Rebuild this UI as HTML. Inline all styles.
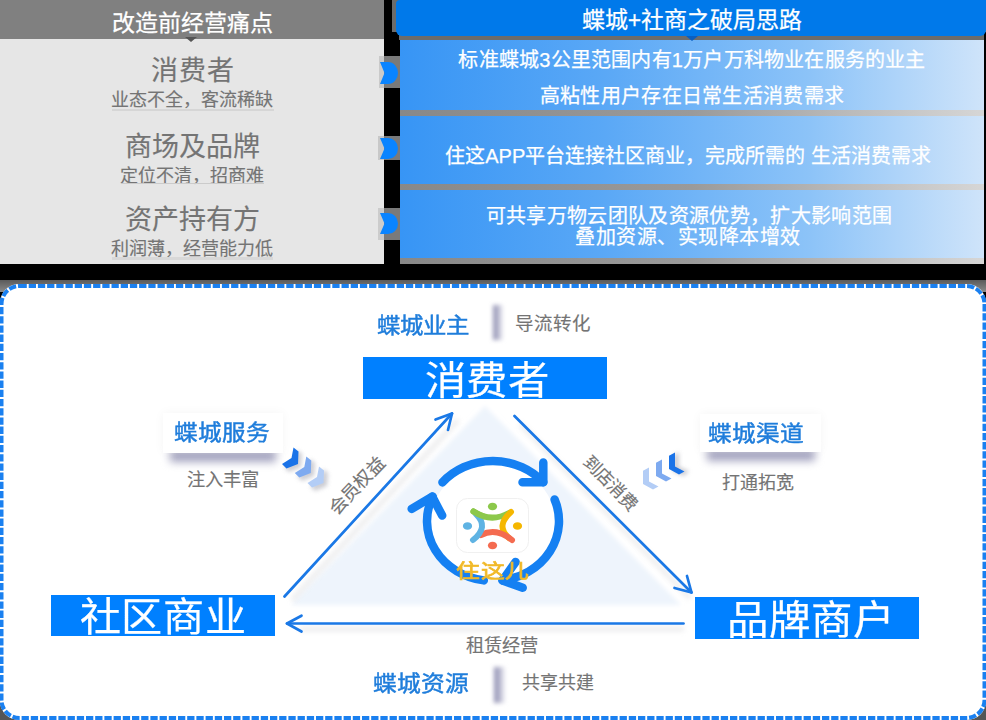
<!DOCTYPE html>
<html lang="zh-CN"><head><meta charset="utf-8">
<style>
*{margin:0;padding:0;box-sizing:border-box}
html,body{width:986px;height:720px;overflow:hidden;background:#000}
body{position:relative;font-family:"Liberation Sans",sans-serif}
.a{position:absolute}
.t{position:absolute;white-space:nowrap;line-height:1;text-align:center;-webkit-text-stroke:0.25px currentColor}
#lp{left:0;top:0;width:384px;height:264px;background:#e6e6e6}
#lh{left:0;top:0;width:384px;height:39px;background:#808080}
#rh{left:396px;top:0;width:590px;height:36px;background:#0079ea;border-radius:4px 0 6px 6px}
.row{position:absolute;left:400px;width:584px;background:linear-gradient(90deg,#3795f5 0%,#5aa8f6 35%,#8cc3f8 70%,#cfe4fa 100%)}
.sep{position:absolute;left:400px;width:584px;height:6px;background:linear-gradient(90deg,#888 0%,#9a9a9a 50%,#d6d6d6 100%)}
#box{left:0;top:284px;width:986px;height:436px}
.wt{color:#fff}
.gt{color:#747474;-webkit-text-stroke:0.15px #747474}
.bt{color:#1f7ddb;-webkit-text-stroke:0.45px #1f7ddb}
.bb{position:absolute;background:#0080ff}
</style></head><body>
<!-- left panel -->
<div class="a" id="lp"></div>
<div class="a" id="lh"></div>
<div class="t wt" style="left:0;width:384px;top:12px;font-size:23px">改造前经营痛点</div>
<div class="t gt" style="left:0;width:384px;top:58px;font-size:27px;letter-spacing:1px;text-indent:1px">消费者</div>
<div class="t gt" style="left:0;width:384px;top:91px;font-size:18px">业态不全，客流稀缺</div>
<div class="t gt" style="left:0;width:384px;top:134px;font-size:27px">商场及品牌</div>
<div class="t gt" style="left:0;width:384px;top:167px;font-size:18px">定位不清，招商难</div>
<div class="t gt" style="left:0;width:384px;top:207px;font-size:27px">资产持有方</div>
<div class="t gt" style="left:0;width:384px;top:240px;font-size:18px">利润薄，经营能力低</div>

<div class="a" style="left:112px;top:109px;width:162px;height:2px;background:#d6d6d6"></div>
<div class="a" style="left:121px;top:183px;width:143px;height:1px;background:#cbcbcb"></div>
<div class="a" style="left:112px;top:257px;width:161px;height:3px;background:#d8d8d8"></div>
<svg class="a" style="left:184px;top:37px" width="14" height="6"><path d="M1 0 L13 0 L7 5 Z" fill="#555"/></svg>
<!-- indicators -->
<div class="a" style="left:379px;top:56px;width:5px;height:32px;background:#cacaca"></div>
<div class="a" style="left:378px;top:136px;width:6px;height:24px;background:#c8c8c8"></div>
<div class="a" style="left:378px;top:208px;width:6px;height:32px;background:#cccccc"></div>
<div class="a" style="left:384px;top:56px;width:16px;height:32px;background:#7a7a7a"></div>
<div class="a" style="left:384px;top:136px;width:16px;height:24px;background:#7a7a7a"></div>
<div class="a" style="left:384px;top:208px;width:16px;height:32px;background:#7a7a7a"></div>
<svg class="a" style="left:376px;top:56px" width="26" height="190" viewBox="0 0 26 190">
<path d="M4 6 H12 A10 11 0 0 1 12 28 H4 L8.5 17 Z" fill="#0a84ff"/>
<path d="M4 82 H12 A10 10.5 0 0 1 12 103 H4 L8.5 92.5 Z" fill="#0a84ff"/>
<path d="M4 157 H12 A10 10.5 0 0 1 12 178 H4 L8.5 167.5 Z" fill="#0a84ff"/>
</svg>

<!-- right panel -->
<div class="a" style="left:392px;top:0;width:594px;height:32px;background:#6c6c6c"></div>
<div class="a" style="left:399px;top:32px;width:587px;height:8px;background:#6c6c6c"></div>
<div class="a" style="left:984px;top:32px;width:2px;height:232px;background:#000"></div>
<div class="a" id="rh"></div>
<div class="t wt" style="left:400px;width:584px;top:9px;font-size:23px">蝶城+社商之破局思路</div>
<div class="row" style="top:40px;height:70px"></div>
<svg class="a" style="left:685px;top:36px" width="14" height="6"><path d="M1 0 L13 0 L7 5 Z" fill="#0a5fc0"/></svg>
<div class="sep" style="top:110px"></div>
<div class="row" style="top:116px;height:68px"></div>
<div class="sep" style="top:184px"></div>
<div class="row" style="top:190px;height:68px"></div>
<div class="sep" style="top:258px"></div>
<div class="t wt" style="left:400px;width:584px;top:50px;font-size:20px;letter-spacing:.2px">标准蝶城3公里范围内有1万户万科物业在服务的业主</div>
<div class="t wt" style="left:400px;width:584px;top:86px;font-size:20px;letter-spacing:.3px">高粘性用户存在日常生活消费需求</div>
<div class="t wt" style="left:396px;width:584px;top:146px;font-size:20px">住这APP平台连接社区商业，完成所需的 生活消费需求</div>
<div class="t wt" style="left:397px;width:584px;top:206px;font-size:20px;letter-spacing:.35px">可共享万物云团队及资源优势，扩大影响范围</div>
<div class="t wt" style="left:396px;width:584px;top:227px;font-size:20px;letter-spacing:.5px">叠加资源、实现降本增效</div>

<!-- diagram box -->
<div class="a" style="left:0;top:280px;width:986px;height:12px;background:linear-gradient(180deg,#5a5a5a,#8a8a8a)"></div>
<div class="a" style="left:0;top:700px;width:20px;height:20px;background:#555"></div>
<div class="a" style="left:966px;top:700px;width:20px;height:20px;background:#555"></div>
<svg class="a" id="box" width="986" height="436" viewBox="0 0 986 436">
<rect x="0" y="0" width="986" height="436" rx="19" ry="19" fill="#fff"/>
<rect x="1.5" y="2" width="983" height="432" rx="18" ry="18" fill="none" stroke="#1a80f0" stroke-width="4" stroke-dasharray="7.3 1.9"/>
</svg>

<!-- diagram shapes -->
<svg class="a" style="left:0;top:0" width="986" height="720" viewBox="0 0 986 720">
<defs>
<filter id="sh" x="-20%" y="-20%" width="140%" height="140%"><feGaussianBlur stdDeviation="2.5"/></filter>
<filter id="sh2" x="-50%" y="-50%" width="200%" height="200%"><feGaussianBlur stdDeviation="2"/></filter>
<linearGradient id="bar" x1="0" x2="1" y1="0" y2="0"><stop offset="0" stop-color="#8e8eb0"/><stop offset="0.5" stop-color="#b4b4cc"/><stop offset="1" stop-color="#f4f4f8"/></linearGradient>
</defs>
<!-- triangle fill -->
<polygon points="485,406 291,605 681,605" fill="#eef4fc" filter="url(#sh2)"/>
<!-- line shadows -->
<g stroke="#c4c4c8" stroke-width="5" fill="none" filter="url(#sh)" opacity="0.3">
<line x1="292" y1="600" x2="458" y2="420"/>
<line x1="520" y1="424" x2="690" y2="598"/>
<line x1="300" y1="629" x2="684" y2="629"/>
</g>
<!-- white highlight bands inside -->

<!-- arrows -->
<g stroke="#1a78e6" stroke-width="2.7" fill="none" stroke-linecap="round" stroke-linejoin="round">
<line x1="284.5" y1="596.5" x2="452" y2="413.5"/>
<polyline points="435.5,419.5 452,413.5 448,430"/>
<line x1="514.5" y1="416" x2="691.5" y2="592.5"/>
<polyline points="687,576 691.5,592.5 674.5,588"/>
<line x1="683.5" y1="623.5" x2="287" y2="623.5"/>
<polyline points="301.5,615.7 287,623.5 301.5,631.5"/>
</g>
<!-- bars -->
<rect x="493" y="305" width="10" height="35" fill="url(#bar)" filter="url(#sh2)"/>
<rect x="494" y="667" width="11" height="36" fill="url(#bar)" filter="url(#sh2)"/>
<!-- circle arrows -->
<ellipse cx="493" cy="521" rx="62" ry="56" fill="#fff"/>
<g stroke="#1580f2" stroke-width="8.5" fill="none" stroke-linecap="round" stroke-linejoin="round">
<path d="M442.4,482.4 A66,60 0 0 1 543.3,482.2"/>
<polyline points="543.3,462.5 543.3,482.2 522.5,482.2"/>
<path d="M554.6,499.5 A66,60 0 0 1 502.5,580.4"/>
<polyline points="515.6,562 502.5,580.4 522.7,587.7"/>
<path d="M483.8,580.4 A66,60 0 0 1 432.7,496.6"/>
<polyline points="411.7,508.9 432.2,496.6 442.2,515.6"/>
</g>
<!-- logo -->
<rect x="456.5" y="498.5" width="72" height="54" rx="11" fill="#fff" stroke="#f0f0f0" stroke-width="1"/>
<g stroke-width="6" fill="none" stroke-linecap="round">
<path d="M473.5,511.5 Q491,523 509,513" stroke="#8cc84b"/>
<path d="M511,512 Q495,526 509,538" stroke="#f5b700"/>
<path d="M512,540 Q496,527 481,535" stroke="#f46b50"/>
<path d="M473,540 Q489.5,527 476,514" stroke="#5fb3e3"/>
<path d="M473.5,511.5 Q478,514.5 484,516.5" stroke="#8cc84b"/>
</g>
<ellipse cx="492.5" cy="506.5" rx="4.6" ry="3.8" fill="#8cc84b"/>
<ellipse cx="467.5" cy="526" rx="4.6" ry="3.8" fill="#5fb3e3"/>
<ellipse cx="517.5" cy="526" rx="4.6" ry="3.8" fill="#f5b700"/>
<ellipse cx="492.5" cy="545.5" rx="4.6" ry="3.8" fill="#f46b50"/>
<!-- chevrons left -->
<g filter="url(#sh2)" fill="#b8b8c0" opacity="0.7">
<path d="M297,450 L302,454 L301,467 L289,472 L284,467 L294,461 Z"/>
<path d="M310,459 L315,463 L314,476 L302,481 L297,476 L307,470 Z"/>
<path d="M323,469 L328,473 L327,486 L315,491 L310,486 L320,480 Z"/>
</g>
<path d="M293.5,447.5 L298.5,451.5 L298,464 L286.5,468.5 L282,464 L291.5,458 Z" fill="#1a73e8"/>
<path d="M306.3,456.5 L311.3,460.5 L310.8,473 L299.3,477.5 L294.8,473 L304.3,467 Z" fill="#7eaaf0"/>
<path d="M319,466.5 L324,470.5 L323.5,483 L312,487.5 L307.5,483 L317,477 Z" fill="#b3cdf6"/>
<!-- chevrons right -->
<g filter="url(#sh2)" fill="#b8b8c0" opacity="0.7">
<path d="M673,456 L679,452 L679,467 L689,471 L684,476 L673,472 Z"/>
</g>
<path d="M669,455.8 L675,452.5 L675,466.5 L684.5,471.5 L679,474.5 L669,469 Z" fill="#1a73e8"/>
<path d="M656,462.8 L662,459.5 L662,473.5 L671.5,478.5 L666,481.5 L656,476 Z" fill="#7eaaf0"/>
<path d="M643,470.8 L649,467.5 L649,481.5 L658.5,486.5 L653,489.5 L643,484 Z" fill="#b3cdf6"/>
</svg>

<!-- blue boxes -->
<div class="bb" style="left:363px;top:357px;width:244px;height:42px"></div>
<div class="bb" style="left:51px;top:595px;width:224px;height:41px"></div>
<div class="bb" style="left:695px;top:597px;width:224px;height:42px"></div>
<div class="t wt" style="left:365px;width:244px;top:361px;font-size:39px;transform:scaleX(1.06)">消费者</div>
<div class="t wt" style="left:51px;width:224px;top:598px;font-size:39.5px;transform:scaleX(1.04)">社区商业</div>
<div class="t wt" style="left:699px;width:224px;top:601px;font-size:39.5px;transform:scaleX(1.05)">品牌商户</div>

<!-- cards -->
<div class="a" style="left:170px;top:450px;width:106px;height:12px;background:#a4a4c0;filter:blur(4px)"></div>
<div class="a" style="left:163px;top:413px;width:120px;height:40px;background:#fff;box-shadow:0 0 10px rgba(0,0,0,.045)"></div>
<div class="a" style="left:707px;top:449px;width:108px;height:12px;background:#a4a4c0;filter:blur(4px)"></div>
<div class="a" style="left:700px;top:414px;width:121px;height:38px;background:#fff;box-shadow:0 0 10px rgba(0,0,0,.045)"></div>

<!-- diagram texts -->
<div class="t bt" style="left:363px;width:120px;top:316px;font-size:21.3px;transform:scaleX(1.1)">蝶城业主</div>
<div class="t gt" style="left:513px;width:80px;top:315px;font-size:18.5px">导流转化</div>
<div class="t bt" style="left:162px;width:120px;top:423px;font-size:21.5px;transform:scaleX(1.1)">蝶城服务</div>
<div class="t gt" style="left:163px;width:120px;top:471px;font-size:18.3px">注入丰富</div>
<div class="t bt" style="left:696px;width:120px;top:424px;font-size:21.5px;transform:scaleX(1.1)">蝶城渠道</div>
<div class="t gt" style="left:698px;width:120px;top:474px;font-size:18px">打通拓宽</div>
<div class="t gt" style="left:317px;width:80px;top:477px;font-size:18px;transform:rotate(-46.5deg)">会员权益</div>
<div class="t gt" style="left:570px;width:80px;top:475px;font-size:17.5px;transform:rotate(45.5deg)">到店消费</div>
<div class="t" style="left:433px;width:120px;top:562px;font-size:19.5px;color:#f1b928;-webkit-text-stroke:0.7px #f1b928;transform:scaleX(1.22)">住这儿</div>
<div class="t gt" style="left:442px;width:120px;top:637px;font-size:18.3px">租赁经营</div>
<div class="t bt" style="left:361px;width:120px;top:673px;font-size:21.8px;transform:scaleX(1.09)">蝶城资源</div>
<div class="t gt" style="left:518px;width:80px;top:674px;font-size:18px">共享共建</div>

</body></html>
